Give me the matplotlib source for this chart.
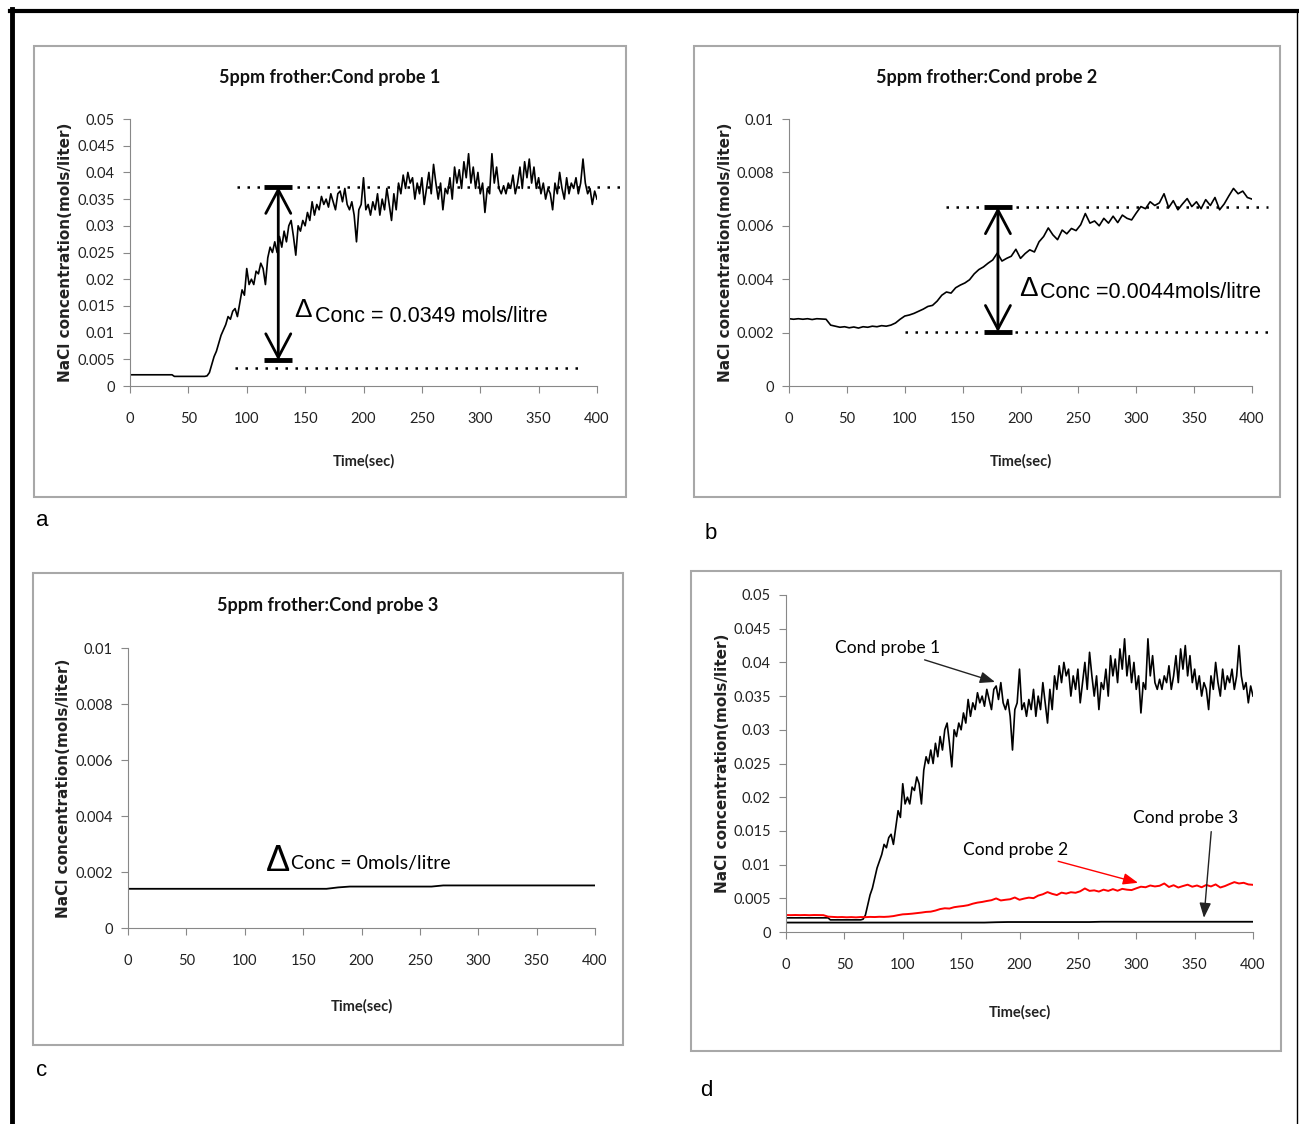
import matplotlib
matplotlib.use("Agg")
import matplotlib.pyplot as plt
from matplotlib.patches import Rectangle
from matplotlib.lines import Line2D
import numpy as np

# %% data
t1 = np.arange(0, 401, 2)
probe1 = (
    [0.0021] * 19
    + [0.0018] * 14
    + [0.0019, 0.0025, 0.0040, 0.0055, 0.0065, 0.0080, 0.0095, 0.0105, 0.0115, 0.0130,
       0.0125, 0.0140, 0.0145, 0.0130, 0.0155, 0.0180, 0.0170, 0.0220, 0.0190, 0.0200,
       0.0190, 0.0215, 0.0210, 0.0230, 0.0220, 0.0190, 0.0240, 0.0260, 0.0250, 0.0270,
       0.0250, 0.0280, 0.0260, 0.0290, 0.0270, 0.0300, 0.0310, 0.0280, 0.0245, 0.0300,
       0.0290, 0.0310, 0.0300, 0.0325, 0.0310, 0.0345, 0.0320, 0.0340, 0.0330, 0.0355,
       0.0340, 0.0350, 0.0335, 0.0360, 0.0345, 0.0330, 0.0360, 0.0365, 0.0345, 0.0370,
       0.0340, 0.0330, 0.0345, 0.0320, 0.0270, 0.0330, 0.0340, 0.0390, 0.0330, 0.0340,
       0.0320, 0.0345, 0.0330, 0.0360, 0.0320, 0.0350, 0.0330, 0.0370, 0.0340, 0.0310,
       0.0360, 0.0330, 0.0380, 0.0360, 0.0395, 0.0370, 0.0400, 0.0380, 0.0390, 0.0350,
       0.0380, 0.0360, 0.0390, 0.0340, 0.0370, 0.0400, 0.0360, 0.0415, 0.0380, 0.0350,
       0.0380, 0.0330, 0.0370, 0.0360, 0.0390, 0.0350, 0.0410, 0.0380, 0.0405, 0.0370,
       0.0420, 0.0390, 0.0435, 0.0380, 0.0410, 0.0370, 0.0400, 0.0360, 0.0380, 0.0325,
       0.0370, 0.0360, 0.0435, 0.0380, 0.0410, 0.0370, 0.0360, 0.0375, 0.0360, 0.0380,
       0.0370, 0.0395, 0.0360, 0.0380, 0.0410, 0.0370, 0.0420, 0.0390, 0.0425, 0.0380,
       0.0410, 0.0370, 0.0390, 0.0360, 0.0380, 0.0350, 0.0370, 0.0360, 0.0330, 0.0380,
       0.0360, 0.0400, 0.0370, 0.0350, 0.0390, 0.0360, 0.0380, 0.0370, 0.0390, 0.0360,
       0.0380, 0.0425, 0.0380, 0.0360, 0.0370, 0.0340, 0.0365, 0.0350]
)

t2 = np.arange(0, 401, 4)
probe2 = [
    0.00252, 0.00250, 0.00252, 0.00250, 0.00252, 0.00249, 0.00252, 0.00251, 0.00250, 0.00228,
    0.00224, 0.00220, 0.00222, 0.00218, 0.00221, 0.00217, 0.00222, 0.00220, 0.00224, 0.00222,
    0.00226, 0.00224, 0.00228, 0.00236, 0.00250, 0.00262, 0.00266, 0.00272, 0.00280, 0.00288,
    0.00298, 0.00302, 0.00318, 0.00340, 0.00352, 0.00348, 0.00368, 0.00378, 0.00386, 0.00398,
    0.00420, 0.00436, 0.00446, 0.00460, 0.00472, 0.00498, 0.00468, 0.00478, 0.00486, 0.00512,
    0.00478, 0.00496, 0.00510, 0.00502, 0.00540, 0.00560, 0.00592, 0.00566, 0.00548, 0.00584,
    0.00570, 0.00590, 0.00582, 0.00604, 0.00646, 0.00610, 0.00618, 0.00600, 0.00628, 0.00610,
    0.00636, 0.00612, 0.00640, 0.00628, 0.00622, 0.00648, 0.00672, 0.00664, 0.00690, 0.00676,
    0.00686, 0.00720, 0.00668, 0.00694, 0.00660, 0.00682, 0.00702, 0.00672, 0.00690, 0.00664,
    0.00698, 0.00676, 0.00706, 0.00660, 0.00682, 0.00712, 0.00740, 0.00720, 0.00730, 0.00706,
    0.00700,
]

t3 = np.arange(0, 401, 10)
probe3 = [0.00140] * 18 + [0.00145] + [0.00148] * 8 + [0.00152] * 14

# reference levels for the delta annotations
levels_a = (0.0373, 0.0034)
levels_b = (0.0067, 0.00202)
delta_text = ["Conc = 0.0349 mols/litre", "Conc =0.0044mols/litre", "Conc = 0mols/litre"]

yt_big = [0, 0.005, 0.01, 0.015, 0.02, 0.025, 0.03, 0.035, 0.04, 0.045, 0.05]
yt_big_lab = ["0", "0.005", "0.01", "0.015", "0.02", "0.025", "0.03", "0.035", "0.04", "0.045", "0.05"]
yt_small = [0, 0.002, 0.004, 0.006, 0.008, 0.01]
yt_small_lab = ["0", "0.002", "0.004", "0.006", "0.008", "0.01"]
titles = ["5ppm frother:Cond probe 1", "5ppm frother:Cond probe 2", "5ppm frother:Cond probe 3"]

# %% layout helpers
W, H = 1299, 1124
LATO = ["Lato", "DejaVu Sans"]
ARIAL = ["Liberation Sans", "DejaVu Sans"]
fig = plt.figure(figsize=(W / 100, H / 100), dpi=100)


def add_ax(x0, x1, ytop, ybot):
    return fig.add_axes([x0 / W, 1 - ybot / H, (x1 - x0) / W, (ybot - ytop) / H])


def box(x0, y0, x1, y1, title=None, title_y=None):
    fig.patches.append(Rectangle((x0 / W, 1 - y1 / H), (x1 - x0) / W, (y1 - y0) / H,
                                 transform=fig.transFigure, fill=False,
                                 edgecolor="#a8a8a8", lw=1.5))
    if title:
        fig.text((x0 + x1) / 2 / W, 1 - title_y / H, title, fontsize=13, fontweight="bold",
                 family=LATO, ha="center", va="center", color="#111111")


def style(ax, yt, ylab, xlab_y=-0.255):
    ax.set_xlim(0, 400)
    ax.set_ylim(yt[0], yt[-1])
    ax.set_xticks(range(0, 401, 50))
    ax.set_yticks(yt)
    ax.set_yticklabels(ylab)
    for s in ["top", "right"]:
        ax.spines[s].set_visible(False)
    for s in ["left", "bottom"]:
        ax.spines[s].set_color("#888888")
    ax.tick_params(direction="out", length=5, color="#888888", labelsize=10.5)
    ax.tick_params(axis="x", pad=14)
    ax.tick_params(axis="y", pad=6)
    for lab in ax.get_xticklabels() + ax.get_yticklabels():
        lab.set_family(LATO)
        lab.set_color("#222222")
    ax.set_ylabel("NaCl concentration(mols/liter)", fontsize=11, fontweight="bold",
                  family="DejaVu Sans", color="#222222")
    ax.yaxis.set_label_coords(-0.122, 0.5)
    ax.set_xlabel("Time(sec)", fontsize=10.5, fontweight="bold", family=LATO, color="#222222")
    ax.xaxis.set_label_coords(0.5, xlab_y)


def delta(ax, x, top, bot, cap):
    ax.annotate("", xy=(x, top), xytext=(x, bot),
                arrowprops=dict(arrowstyle="<->,head_length=1.7,head_width=0.9",
                                lw=2, color="black", mutation_scale=10, shrinkA=0, shrinkB=0))
    ax.hlines([top, bot], x - cap, x + cap, colors="black", lw=3.5, clip_on=False)


# outer frame
fig.add_artist(Line2D([11.5 / W, 11.5 / W], [0, 1 - 9 / H], transform=fig.transFigure,
                      color="black", lw=3.5))
fig.add_artist(Line2D([10 / W, 1], [1 - 10.5 / H, 1 - 10.5 / H], transform=fig.transFigure,
                      color="black", lw=3))
fig.add_artist(Line2D([1297 / W, 1297 / W], [0, 1 - 10 / H], transform=fig.transFigure,
                      color="black", lw=1))

# %% panel a
box(34, 46, 626, 497, titles[0], 78)
ax = add_ax(130, 597, 119, 386)
ax.plot(t1, probe1, color="black", lw=1.2)
style(ax, yt_big, yt_big_lab)
ax.hlines(levels_a[0], 92, 420, colors="black", lw=1.8, linestyles=(0, (1, 3)), clip_on=False)
ax.hlines(levels_a[1], 90, 385, colors="black", lw=1.8, linestyles=(0, (1, 3)), clip_on=False)
delta(ax, 127, levels_a[0], 0.0048, 12)
ax.text(156, 0.0142, "Δ", fontsize=19, family=ARIAL, ha="right", va="center")
ax.text(158.5, 0.0131, delta_text[0], fontsize=15.5, family=ARIAL, ha="left", va="center")

# %% panel b
box(694, 46, 1280, 497, titles[1], 78)
ax = add_ax(789, 1252, 119, 386)
ax.plot(t2, probe2, color="black", lw=1.2)
style(ax, yt_small, yt_small_lab)
ax.hlines(levels_b[0], 136, 414, colors="black", lw=1.8, linestyles=(0, (1, 3)), clip_on=False)
ax.hlines(levels_b[1], 100, 417, colors="black", lw=1.8, linestyles=(0, (1, 3)), clip_on=False)
delta(ax, 180.5, levels_b[0], levels_b[1], 12)
ax.text(215, 0.00363, "Δ", fontsize=20, family=ARIAL, ha="right", va="center")
ax.text(216.8, 0.00352, delta_text[1], fontsize=15.5, family=ARIAL, ha="left", va="center")

# %% panel c
box(33, 573, 623, 1045, titles[2], 605)
ax = add_ax(128, 595, 648, 928)
ax.plot(t3, probe3, color="black", lw=1.3)
style(ax, yt_small, yt_small_lab, xlab_y=-0.254)
ax.text(139, 0.00239, "Δ", fontsize=26, family=ARIAL, ha="right", va="center")
ax.text(139.6, 0.00232, delta_text[2], fontsize=14, family=LATO, ha="left", va="center")

# %% panel d
box(691, 571, 1281, 1051)
ax = add_ax(786, 1253, 595, 932)
ax.plot(t3, probe3, color="black", lw=1.3)
ax.plot(t1, probe1, color="black", lw=1.2)
ax.plot(t2, probe2, color="red", lw=1.4)
style(ax, yt_big, yt_big_lab, xlab_y=-0.216)
ax.yaxis.set_label_coords(-0.120, 0.5)
arrow = dict(arrowstyle="-|>,head_length=0.9,head_width=0.35", lw=1.0, mutation_scale=10,
             shrinkA=2, shrinkB=0)
ax.annotate("Cond probe 1", xy=(179, 0.0371), xytext=(42, 0.0421), fontsize=12.5, family=LATO,
            va="center", arrowprops=dict(arrow, color="#222222"))
ax.annotate("Cond probe 2", xy=(301.5, 0.0073), xytext=(151.5, 0.0122), fontsize=12.5,
            family=LATO, va="center", arrowprops=dict(arrow, color="red"))
ax.annotate("Cond probe 3", xy=(358, 0.0021), xytext=(297, 0.0169), fontsize=12.5, family=LATO,
            va="center", arrowprops=dict(arrow, color="#222222", relpos=(0.75, 0)))

# panel letters
for lab, (px, py) in zip("abcd", [(42, 520), (711, 533), (42, 1071), (706, 1091)]):
    fig.text(px / W, 1 - py / H, lab, fontsize=16, family=ARIAL, ha="center", va="center")

fig.savefig("out.png", dpi=100)
